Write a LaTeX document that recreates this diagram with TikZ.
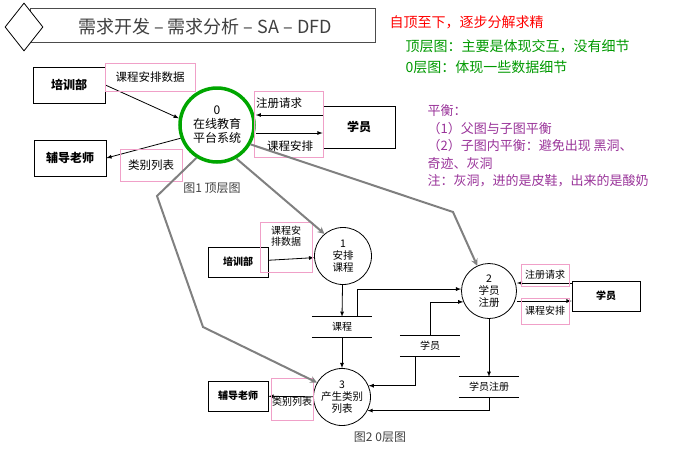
\documentclass[tikz,border=0pt]{standalone}
\usepackage{fontspec}
\setmainfont{Noto Sans CJK SC}
\usetikzlibrary{shapes.geometric, arrows, positioning}
\definecolor{tagpink}{RGB}{240,160,200}
\tikzset{
  entity/.style={rectangle, draw=black, thick, minimum width=72pt, minimum height=36pt, font=\bfseries\fontsize{12}{13}\selectfont},
  smallentity/.style={entity, minimum width=60pt, minimum height=30pt, font=\bfseries\fontsize{10}{11}\selectfont},
  proc/.style={circle, draw=black, thick, minimum size=57pt, inner sep=0pt, align=center, font=\fontsize{10.5}{12}\selectfont},
  store/.style={minimum width=60pt, minimum height=20pt, inner sep=0pt, font=\fontsize{10}{11}\selectfont},
  tag/.style={rectangle, draw=tagpink, thick, inner sep=2pt, align=center, font=\fontsize{11.5}{12}\selectfont},
  flow/.style={thick,->,>=latex},
  link/.style={line width=2pt, draw=gray, ->, >=stealth},
  note/.style={anchor=west, font=\fontsize{14}{16}\selectfont}
}
\begin{document}
\begin{tikzpicture}[x=1pt, y=-1pt]
  \useasboundingbox (0,0) rectangle (694,448);
  % Header
  \node (banner) [draw=black!70, thick, minimum width=345pt, minimum height=34pt, fill=white] at (203,25) {};
  \node (mark) [diamond, draw=black, thick, fill=white, minimum width=38pt, minimum height=48pt, inner sep=0pt] at (24,27) {};
  \node (title) [text=black!75, font=\fontsize{18}{20}\selectfont] at (205,27) {需求开发 – 需求分析 – SA – DFD};
  % Notes
  \node (n1) [note, text=red] at (386,22) {自顶至下，逐步分解求精};
  \node (n2) [note, text=green!60!black] at (402,46) {顶层图：主要是体现交互，没有细节};
  \node (n3) [note, text=green!60!black] at (402,67) {0层图：体现一些数据细节};
  \node (n4) [note, text=violet!80, align=left, font=\fontsize{13}{17.6}\selectfont, anchor=north west] at (424,101)
    {平衡：\\（1）父图与子图平衡\\（2）子图内平衡：避免出现 黑洞、\\奇迹、灰洞\\注：灰洞，进的是皮鞋，出来的是酸奶};

  % Top level
  \node (pxb) [entity] at (69,85) {培训部};
  \node (fdls) [entity] at (70,158) {辅导老师};
  \node (xy) [entity, minimum width=72pt, minimum height=42pt] at (359,127) {学员};
  \node (sys) [proc, draw=green!65!black, line width=3.5pt, minimum size=74pt, font=\fontsize{12}{14}\selectfont] at (217,125) {0\\在线教育\\平台系统};
  \node (cap1) [font=\fontsize{12}{13}\selectfont, text=black!75] at (212,188) {图1 顶层图};
  \draw [flow] (pxb.east) -- (sys.170);
  \draw [flow] (sys.200) -- (fdls.east);
  \draw [flow] (xy.west |- 0,115) -- (sys.east |- 0,115);
  \draw [flow] (sys.east |- 0,133) -- (xy.west |- 0,133);
  \node (t1) [tag, minimum width=90pt, minimum height=28pt] at (150,77) {课程安排数据};
  \node (t2) [tag, minimum width=62pt, minimum height=32pt] at (151,165) {类别列表};
  \node (t3) [tag, minimum width=69pt, minimum height=66pt] at (289,124) {};
  \node (t3a) [font=\fontsize{11.5}{12}\selectfont] at (279,103) {注册请求};
  \node (t3b) [font=\fontsize{11.5}{12}\selectfont] at (290,146) {课程安排};

  % Level 0
  \node (pxb2) [smallentity] at (238,262) {培训部};
  \node (fdls2) [smallentity] at (238,396) {辅导老师};
  \node (xy2) [smallentity, minimum width=68pt] at (606,296) {学员};
  \node (p1) [proc] at (343,256) {1\\安排\\课程};
  \node (p2) [proc, minimum size=55pt] at (489,291) {2\\学员\\注册};
  \node (p3) [proc] at (342,397) {3\\产生类别\\列表};
  \node (kc) [store] at (342,327) {课程};
  \node (xys) [store] at (430,346) {学员};
  \node (zc) [store] at (489,387) {学员注册};
  \foreach \s in {kc, xys, zc}
    \draw [thick] (\s.north west) -- (\s.north east) (\s.south west) -- (\s.south east);
  \node (cap2) [font=\fontsize{12}{13}\selectfont, text=black!75] at (380,437) {图2 0层图};

  \draw [flow] (pxb2) -- (p1);
  \draw [flow] (p1) -- (kc.north);
  \draw [flow] (kc.south) -- (p3);
  \draw [flow] (kc.north) ++(15,0) |- (p2.176);
  \draw [flow] (xys.north) |- (p2.203);
  \draw [flow] (xys.south) ++(-15,0) |- (p3.23);
  \draw [flow] (p2) -- (zc.north);
  \draw [flow] (zc.south) |- (p3.-28);
  \draw [flow] (p3) -- (fdls2);
  \draw [flow] (xy2.west |- 0,283) -- (p2.east |- 0,283);
  \draw [flow] (p2.east |- 0,301) -- (xy2.west |- 0,301);

  \node (t4) [tag, minimum width=52pt, minimum height=50pt, font=\fontsize{10}{11}\selectfont] at (286,247) {课程安\\排数据\\[12pt]};
  \node (t5) [tag, minimum width=48pt, minimum height=22pt, font=\fontsize{10}{11}\selectfont] at (545,275) {注册请求};
  \node (t6) [tag, minimum width=48pt, minimum height=26pt, font=\fontsize{10}{11}\selectfont] at (545,311) {课程安排};
  \node (t7) [tag, minimum width=42pt, minimum height=42pt, inner sep=0pt, font=\fontsize{10}{11}\selectfont] at (292,399) {\\[2pt]类别列表};

  % Refinement links
  \coordinate (b1) at (157,196);
  \coordinate (b2) at (203,327);
  \coordinate (b3) at (453,212);
  \draw [link] (sys.238) -- (b1) -- (b2) -- (p3.150);
  \draw [link] (sys.300) -- (p1.130);
  \draw [link] (sys.330) -- (b3) -- (p2.115);
\end{tikzpicture}
\end{document}
